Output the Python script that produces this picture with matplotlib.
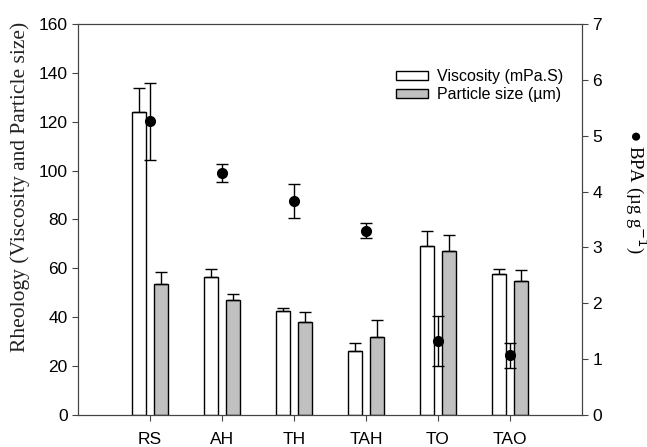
import numpy as np
import matplotlib.pyplot as plt

# data
samples = ['RS', 'AH', 'TH', 'TAH', 'TO', 'TAO']
viscosity = [124, 56.3, 42.7, 26, 69.3, 57.8]
viscosity_err = [10, 3.4, 0.9, 3.4, 6, 2]
particle = [53.5, 47, 38, 32, 67, 54.7]
particle_err = [5, 2.5, 4.2, 6.9, 6.5, 4.5]
bpa = [5.26, 4.34, 3.83, 3.30, 1.33, 1.07]
bpa_err = [0.69, 0.16, 0.31, 0.14, 0.45, 0.22]

plt.rcParams['font.family'] = ['Liberation Sans', 'DejaVu Sans']

fig = plt.figure(figsize=(6.47, 4.47), dpi=100)
ax = fig.add_axes([0.1206, 0.0716, 0.7789, 0.8747])

x = np.arange(len(samples))
w = 0.19
off = 0.15
zero = np.zeros(len(samples))

ax.bar(x - off, viscosity, w, color='white', edgecolor='black', linewidth=1,
       label='Viscosity (mPa.S)')
ax.errorbar(x - off, viscosity, yerr=[zero, viscosity_err], fmt='none',
            ecolor='black', elinewidth=1, capsize=4, capthick=1)
ax.bar(x + off, particle, w, color='#c0c0c0', edgecolor='black', linewidth=1,
       label='Particle size (µm)')
ax.errorbar(x + off, particle, yerr=[zero, particle_err], fmt='none',
            ecolor='black', elinewidth=1, capsize=4, capthick=1)

ax.set_xlim(-1, 6)
ax.set_ylim(0, 160)
ax.set_yticks(np.arange(0, 161, 20))
ax.set_xticks(x)
ax.set_xticklabels(samples)
ax.tick_params(labelsize=12.5, color='#444444', length=4, direction='out')
ax.tick_params(axis='x', pad=8)
for s in ax.spines.values():
    s.set_color('#444444')

ax2 = ax.twinx()
ax2.errorbar(x, bpa, yerr=bpa_err, fmt='o', color='black', ms=7,
             elinewidth=1, capsize=4.5, capthick=1)
ax2.set_ylim(0, 7)
ax2.set_yticks(np.arange(0, 8, 1))
ax2.tick_params(labelsize=12.5, color='#444444', length=4, direction='out')
for s in ax2.spines.values():
    s.set_color('#444444')

ax.legend(loc='upper left', bbox_to_anchor=(0.631, 0.885), frameon=False,
          fontsize=11.5, handlelength=2.0, handleheight=0.55, handletextpad=0.55,
          labelspacing=0.2, borderpad=0, borderaxespad=0)

fig.text(20 / 647, 1 - 187 / 447, 'Rheology (Viscosity and Particle size)',
         rotation=90, family='Liberation Serif', fontsize=15.5,
         color='#222222', ha='center', va='center')
fig.text(636 / 647, 1 - 192 / 447, '● BPA (µg g$^{-1}$)', rotation=270,
         family='Liberation Serif', fontsize=13.5, ha='center', va='center')

fig.savefig('out.png', dpi=100)
